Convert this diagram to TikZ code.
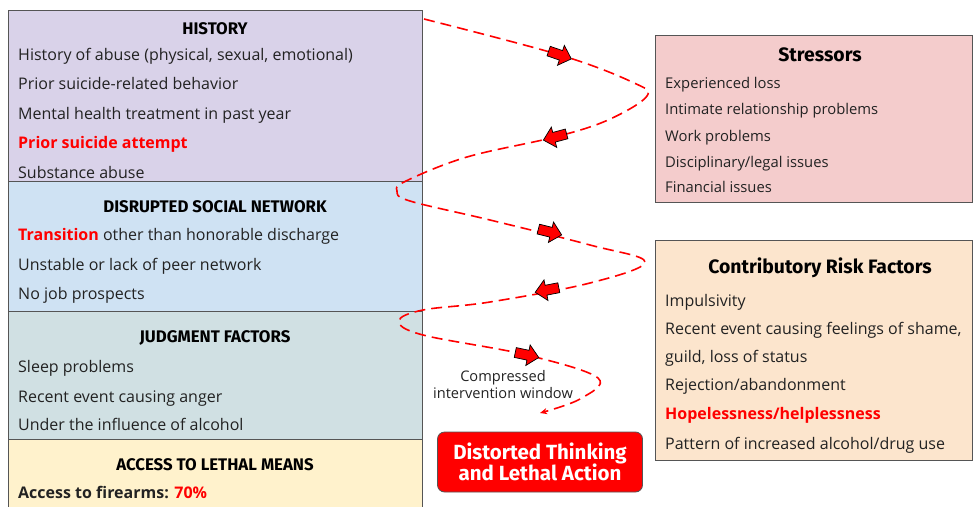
\documentclass[tikz,border=0pt]{standalone}
\usepackage{fontspec}
\setmainfont{Open Sans}
\newfontfamily\headfont{Fira Sans}
\usetikzlibrary{arrows.meta}

\definecolor{histfill}{HTML}{D9D2E9}
\definecolor{socfill}{HTML}{CFE2F3}
\definecolor{judgfill}{HTML}{D0E0E3}
\definecolor{accfill}{HTML}{FFF2CC}
\definecolor{strfill}{HTML}{F4CCCC}
\definecolor{contfill}{HTML}{FCE5CD}
\definecolor{alarm}{HTML}{FF0000}
\definecolor{panelline}{HTML}{555555}
\definecolor{ink}{HTML}{222222}

\tikzset{
  panel/.style    = {draw=panelline, line width=0.9pt, anchor=north west, inner sep=0pt},
  head/.style     = {anchor=base, inner sep=0pt, text=black,
                     font=\headfont\bfseries\fontsize{16.8}{19}\selectfont},
  bighead/.style  = {head, font=\headfont\bfseries\fontsize{19.4}{22}\selectfont},
  item/.style     = {anchor=base west, inner sep=0pt, text=ink,
                     font=\fontsize{16}{19}\selectfont},
  smallitem/.style= {item, font=\fontsize{14.8}{18}\selectfont},
  alarmbox/.style = {draw=panelline, fill=alarm, rounded corners=7pt, line width=0.8pt,
                     minimum width=205pt, minimum height=60pt, align=center, text=white,
                     font=\headfont\bfseries\fontsize{20.5}{21.5}\selectfont},
  wave/.style     = {draw=alarm, line width=1.6pt, dash pattern=on 11pt off 6pt},
  note/.style     = {align=center, inner sep=0pt, text=ink,
                     font=\fontsize{14.6}{17}\selectfont},
  % fat red pointer sitting on the wave
  blockarrow/.pic = {
    \draw[black, fill=alarm, line width=0.7pt, line join=miter]
      (-12,-5) -- (1,-5) -- (1,-10.5) -- (12,0) -- (1,10.5) -- (1,5) -- (-12,5) -- cycle;
  }
}
\newcommand{\hot}[1]{\textcolor{alarm}{\bfseries #1}}

\begin{document}
\begin{tikzpicture}[x=1pt, y=-1pt]
\useasboundingbox (0,0) rectangle (974,506);

% ---- left column: stacked panels ----
\node[panel, fill=histfill, minimum width=414pt, minimum height=171pt] (hist) at (8,10) {};
\node[panel, fill=socfill,  minimum width=414pt, minimum height=130pt] (soc)  at (8,181) {};
\node[panel, fill=judgfill, minimum width=414pt, minimum height=128pt] (judg) at (8,311) {};
\node[panel, fill=accfill,  minimum width=414pt, minimum height=100pt] (acc)  at (8,439) {};

\node[head] (histt) at (215,34) {HISTORY};
\node[item] at (18,60)  {History of abuse (physical, sexual, emotional)};
\node[item] at (18,89)  {Prior suicide-related behavior};
\node[item] at (18,119) {Mental health treatment in past year};
\node[item] at (18,148) {\hot{Prior suicide attempt}};
\node[item] at (18,178) {Substance abuse};

\node[head] (soct) at (215,212) {DISRUPTED SOCIAL NETWORK};
\node[item] at (18,240) {\hot{Transition} other than honorable discharge};
\node[item] at (18,270) {Unstable or lack of peer network};
\node[item] at (18,299) {No job prospects};

\node[head] (judgt) at (215,342) {JUDGMENT FACTORS};
\node[item] at (18,372) {Sleep problems};
\node[item] at (18,402) {Recent event causing anger};
\node[item] at (18,430) {Under the influence of alcohol};

\node[head] (acct) at (215,470) {ACCESS TO LETHAL MEANS};
\node[item] at (18,498) {\bfseries Access to firearms: \hot{70\%}};

% ---- right column ----
\node[panel, fill=strfill,  minimum width=317pt, minimum height=167pt] (str)  at (655,35) {};
\node[bighead] (strt) at (820,61) {Stressors};
\node[smallitem] at (665,88)  {Experienced loss};
\node[smallitem] at (665,114) {Intimate relationship problems};
\node[smallitem] at (665,141) {Work problems};
\node[smallitem] at (665,167) {Disciplinary/legal issues};
\node[smallitem] at (665,192) {Financial issues};

\node[panel, fill=contfill, minimum width=317pt, minimum height=220pt] (cont) at (655,240) {};
\node[bighead] (contt) at (820,273) {Contributory Risk Factors};
\node[item] at (665,306) {Impulsivity};
\node[item] at (665,334) {Recent event causing feelings of shame,};
\node[item] at (665,362) {guild, loss of status};
\node[item] at (665,390) {Rejection/abandonment};
\node[item] at (665,419) {\hot{Hopelessness/helplessness}};
\node[item] at (665,449) {Pattern of increased alcohol/drug use};

% ---- outcome ----
\node[alarmbox] (act) at (540,462) {Distorted Thinking\\and Lethal Action};
\node[note] (win) at (503,385) {Compressed\\intervention window};

% ---- the narrowing wave ----
\coordinate (w0) at (424,19);
\coordinate (wend) at (540,413);
\draw[wave, -{Stealth[length=7pt,width=6pt,inset=2pt]}] plot[smooth, tension=0.6] coordinates {
  (w0) (560,55) (632,82) (647,96) (608,120) (555,137) (467,157) (406,181) (397,191)
  (410,201) (490,220) (590,245) (645,262) (590,283) (490,302) (423,310) (399,321)
  (423,335) (527,355) (598,378) (580,399) (wend)};

\pic[rotate=-19] at (560,55)  {blockarrow};
\pic[rotate=195] at (555,137) {blockarrow};
\pic[rotate=-14] at (550,232) {blockarrow};
\pic[rotate=191] at (547,290) {blockarrow};
\pic[rotate=-12] at (527,355) {blockarrow};
\end{tikzpicture}
\end{document}
